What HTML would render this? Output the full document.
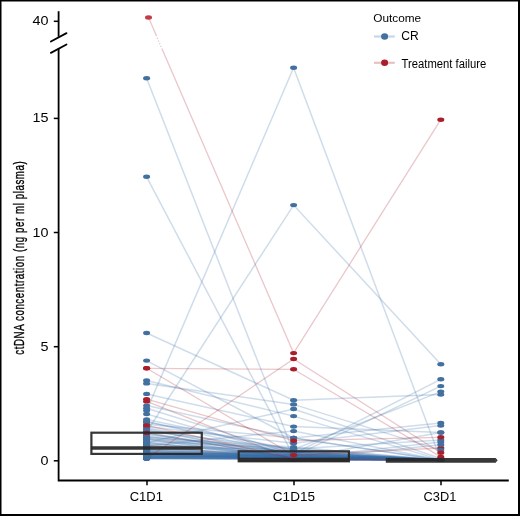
<!DOCTYPE html>
<html><head><meta charset="utf-8"><style>
html,body{margin:0;padding:0;background:#fff;}
svg{display:block;will-change:transform;}
text{font-family:"Liberation Sans",sans-serif;fill:#000;}
</style></head><body>
<svg width="520" height="516" viewBox="0 0 520 516">
<rect x="0" y="0" width="520" height="516" fill="#fff"/>
<g fill="none" stroke="#aa1e2c" stroke-opacity="0.25" stroke-width="1.3"><polyline points="146.6,401.4 293.6,459.7 440.8,459.9"/><polyline points="146.6,432.9 293.6,458.5 440.8,459.9"/><polyline points="146.6,444.8 293.6,459.7 440.8,459.9"/></g><g fill="none" stroke="#386ea6" stroke-opacity="0.24" stroke-width="1.5"><polyline points="146.6,78.2 293.6,452.6 440.8,459.7"/><polyline points="146.6,176.8 293.6,456.2 440.8,459.7"/><polyline points="146.6,333.0 293.6,400.3 440.8,394.6"/><polyline points="146.6,360.6 293.6,438.0 440.8,459.9"/><polyline points="146.6,380.4 293.6,416.1 440.8,459.9"/><polyline points="146.6,383.4 293.6,404.4 440.8,450.1"/><polyline points="146.6,393.9 293.6,426.6 440.8,432.5"/><polyline points="146.6,410.6 293.6,67.7 440.8,459.9"/><polyline points="146.6,432.0 293.6,205.1 440.8,364.2"/><polyline points="146.6,442.8 293.6,409.0 440.8,458.5"/><polyline points="146.6,405.6 293.6,438.0 440.8,459.9"/><polyline points="146.6,408.3 293.6,454.0 440.8,379.3"/><polyline points="146.6,414.0 293.6,456.2 440.8,386.1"/><polyline points="146.6,422.0 293.6,449.4 440.8,391.6"/><polyline points="146.6,424.3 293.6,438.0 440.8,422.9"/><polyline points="146.6,426.6 293.6,443.2 440.8,425.6"/><polyline points="146.6,428.8 293.6,458.5 440.8,432.5"/><polyline points="146.6,431.1 293.6,448.9 440.8,440.0"/><polyline points="146.6,433.4 293.6,458.5 440.8,442.1"/><polyline points="146.6,435.7 293.6,459.7 440.8,444.8"/><polyline points="146.6,437.5 293.6,447.1 440.8,459.9"/><polyline points="146.6,419.5 293.6,450.5 440.8,459.9"/><polyline points="146.6,438.7 293.6,451.7 440.8,459.9"/><polyline points="146.6,421.5 293.6,455.1 440.8,459.9"/><polyline points="146.6,439.8 293.6,457.4 440.8,459.9"/><polyline points="146.6,427.7 293.6,454.0 440.8,459.9"/><polyline points="146.6,430.0 293.6,456.2 440.8,459.9"/><polyline points="146.6,432.3 293.6,458.5 440.8,458.5"/><polyline points="146.6,434.5 293.6,452.8 440.8,459.9"/><polyline points="146.6,436.8 293.6,450.5 440.8,459.9"/><polyline points="146.6,438.0 293.6,457.4 440.8,459.9"/><polyline points="146.6,439.1 293.6,459.7 440.8,459.9"/><polyline points="146.6,445.7 293.6,431.1 440.8,459.9"/><polyline points="146.6,441.4 293.6,448.2 440.8,459.9"/><polyline points="146.6,442.5 293.6,458.5 440.8,459.9"/><polyline points="146.6,443.7 293.6,451.7 440.8,459.9"/><polyline points="146.6,444.8 293.6,454.0 440.8,459.9"/><polyline points="146.6,446.0 293.6,458.5 440.8,459.9"/><polyline points="146.6,447.1 293.6,459.7 440.8,459.9"/><polyline points="146.6,448.2 293.6,455.1 440.8,459.9"/><polyline points="146.6,449.4 293.6,458.5 440.8,459.9"/><polyline points="146.6,450.5 293.6,452.8 440.8,459.9"/><polyline points="146.6,451.7 293.6,458.5 440.8,459.9"/><polyline points="146.6,452.8 293.6,459.7 440.8,459.9"/><polyline points="146.6,454.0 293.6,456.2 440.8,459.9"/><polyline points="146.6,455.1 293.6,458.5 440.8,459.9"/><polyline points="146.6,456.2 293.6,457.4 440.8,459.9"/><polyline points="146.6,457.4 293.6,458.5 440.8,459.9"/><polyline points="146.6,458.5 293.6,458.5 440.8,459.9"/><polyline points="146.6,458.1 293.6,459.7 440.8,459.9"/><polyline points="146.6,458.5 293.6,459.7 440.8,459.9"/><polyline points="146.6,458.5 293.6,458.5 440.8,459.9"/><polyline points="146.6,454.0 293.6,458.5 440.8,459.9"/><polyline points="146.6,449.4 293.6,456.2 440.8,459.9"/><polyline points="146.6,442.5 293.6,457.4 440.8,459.9"/><polyline points="146.6,456.2 293.6,455.1 440.8,459.9"/><polyline points="146.6,458.5 293.6,457.4 440.8,459.9"/><polyline points="146.6,447.1 293.6,449.4 440.8,459.9"/><polyline points="146.6,451.7 293.6,454.0 440.8,459.9"/><polyline points="146.6,455.1 293.6,451.7 440.8,459.9"/><polyline points="146.6,457.4 293.6,456.2 440.8,459.9"/><polyline points="146.6,452.8 293.6,456.2 440.8,459.9"/><polyline points="146.6,450.5 293.6,457.4 440.8,459.9"/><polyline points="146.6,456.2 293.6,459.7 440.8,459.9"/><polyline points="146.6,454.0 293.6,454.0 440.8,459.9"/><polyline points="146.6,458.1 293.6,458.1 440.8,459.9"/><polyline points="146.6,456.7 293.6,459.0 440.8,459.9"/><polyline points="146.6,455.8 293.6,456.7 440.8,459.9"/><polyline points="146.6,454.4 293.6,458.1 440.8,459.9"/><polyline points="146.6,453.3 293.6,455.8 440.8,459.9"/><polyline points="146.6,457.6 293.6,455.1 440.8,459.9"/><polyline points="146.6,452.1 293.6,457.4 440.8,459.9"/><polyline points="146.6,451.2 293.6,455.1 440.8,459.9"/><polyline points="146.6,457.1 293.6,454.0 440.8,459.9"/><polyline points="146.6,454.9 293.6,452.8 440.8,459.9"/><polyline points="146.6,458.3 293.6,458.5 440.8,459.9"/><polyline points="146.6,455.3 293.6,458.5 440.8,459.9"/><polyline points="146.6,457.8 293.6,457.6 440.8,459.9"/><polyline points="146.6,456.5 293.6,458.1 440.8,459.9"/><polyline points="146.6,455.5 293.6,456.2 440.8,459.9"/><polyline points="146.6,456.9 293.6,456.7 440.8,459.9"/><polyline points="146.6,454.6 293.6,457.4 440.8,459.9"/><polyline points="146.6,453.5 293.6,458.1 440.8,459.9"/><polyline points="146.6,456.0 293.6,454.4 440.8,459.9"/><polyline points="146.6,452.6 293.6,455.1 440.8,459.9"/></g><g fill="none" stroke="#aa1e2c" stroke-opacity="0.25" stroke-width="1.3"><polyline points="146.6,458.5 293.6,359.0 440.8,452.8"/><polyline points="146.6,368.3 293.6,369.3 440.8,456.9"/><polyline points="146.6,368.3 293.6,455.3 440.8,448.0"/><polyline points="146.6,399.2 293.6,440.7 440.8,437.3"/><polyline points="146.6,425.4 293.6,458.5 440.8,459.9"/></g><g fill="none" stroke="#aa1e2c" stroke-opacity="0.25" stroke-width="1.3"><polyline points="148.5,17.5 156.1,35.1"/><polyline points="156.1,35.1 162.3,49.5" stroke-dasharray="1.3 1.6"/><polyline points="162.3,49.5 293.6,353.1 440.8,119.7"/></g><g fill="#aa1e2c"><ellipse cx="146.6" cy="458.5" rx="3.5" ry="2.2"/><ellipse cx="440.8" cy="448.0" rx="3.5" ry="2.2"/><ellipse cx="293.6" cy="459.7" rx="3.5" ry="2.2"/><ellipse cx="440.8" cy="459.9" rx="3.5" ry="2.2"/><ellipse cx="293.6" cy="458.5" rx="3.5" ry="2.2"/><ellipse cx="440.8" cy="459.9" rx="3.5" ry="2.2"/><ellipse cx="293.6" cy="458.5" rx="3.5" ry="2.2"/><ellipse cx="440.8" cy="459.9" rx="3.5" ry="2.2"/><ellipse cx="146.6" cy="444.8" rx="3.5" ry="2.2"/><ellipse cx="293.6" cy="459.7" rx="3.5" ry="2.2"/><ellipse cx="440.8" cy="459.9" rx="3.5" ry="2.2"/></g><g fill="#42709f"><ellipse cx="146.6" cy="78.2" rx="3.5" ry="2.2"/><ellipse cx="293.6" cy="452.6" rx="3.5" ry="2.2"/><ellipse cx="440.8" cy="459.7" rx="3.5" ry="2.2"/><ellipse cx="146.6" cy="176.8" rx="3.5" ry="2.2"/><ellipse cx="293.6" cy="456.2" rx="3.5" ry="2.2"/><ellipse cx="440.8" cy="459.7" rx="3.5" ry="2.2"/><ellipse cx="146.6" cy="333.0" rx="3.5" ry="2.2"/><ellipse cx="293.6" cy="400.3" rx="3.5" ry="2.2"/><ellipse cx="440.8" cy="394.6" rx="3.5" ry="2.2"/><ellipse cx="146.6" cy="360.6" rx="3.5" ry="2.2"/><ellipse cx="293.6" cy="438.0" rx="3.5" ry="2.2"/><ellipse cx="440.8" cy="459.9" rx="3.5" ry="2.2"/><ellipse cx="146.6" cy="380.4" rx="3.5" ry="2.2"/><ellipse cx="293.6" cy="416.1" rx="3.5" ry="2.2"/><ellipse cx="440.8" cy="459.9" rx="3.5" ry="2.2"/><ellipse cx="146.6" cy="383.4" rx="3.5" ry="2.2"/><ellipse cx="293.6" cy="404.4" rx="3.5" ry="2.2"/><ellipse cx="440.8" cy="450.1" rx="3.5" ry="2.2"/><ellipse cx="146.6" cy="393.9" rx="3.5" ry="2.2"/><ellipse cx="293.6" cy="426.6" rx="3.5" ry="2.2"/><ellipse cx="440.8" cy="432.5" rx="3.5" ry="2.2"/><ellipse cx="146.6" cy="410.6" rx="3.5" ry="2.2"/><ellipse cx="293.6" cy="67.7" rx="3.5" ry="2.2"/><ellipse cx="440.8" cy="459.9" rx="3.5" ry="2.2"/><ellipse cx="146.6" cy="432.0" rx="3.5" ry="2.2"/><ellipse cx="293.6" cy="205.1" rx="3.5" ry="2.2"/><ellipse cx="440.8" cy="364.2" rx="3.5" ry="2.2"/><ellipse cx="146.6" cy="442.8" rx="3.5" ry="2.2"/><ellipse cx="293.6" cy="409.0" rx="3.5" ry="2.2"/><ellipse cx="440.8" cy="458.5" rx="3.5" ry="2.2"/><ellipse cx="146.6" cy="405.6" rx="3.5" ry="2.2"/><ellipse cx="293.6" cy="438.0" rx="3.5" ry="2.2"/><ellipse cx="440.8" cy="459.9" rx="3.5" ry="2.2"/><ellipse cx="146.6" cy="408.3" rx="3.5" ry="2.2"/><ellipse cx="293.6" cy="454.0" rx="3.5" ry="2.2"/><ellipse cx="440.8" cy="379.3" rx="3.5" ry="2.2"/><ellipse cx="146.6" cy="414.0" rx="3.5" ry="2.2"/><ellipse cx="293.6" cy="456.2" rx="3.5" ry="2.2"/><ellipse cx="440.8" cy="386.1" rx="3.5" ry="2.2"/><ellipse cx="146.6" cy="422.0" rx="3.5" ry="2.2"/><ellipse cx="293.6" cy="449.4" rx="3.5" ry="2.2"/><ellipse cx="440.8" cy="391.6" rx="3.5" ry="2.2"/><ellipse cx="146.6" cy="424.3" rx="3.5" ry="2.2"/><ellipse cx="293.6" cy="438.0" rx="3.5" ry="2.2"/><ellipse cx="440.8" cy="422.9" rx="3.5" ry="2.2"/><ellipse cx="146.6" cy="426.6" rx="3.5" ry="2.2"/><ellipse cx="293.6" cy="443.2" rx="3.5" ry="2.2"/><ellipse cx="440.8" cy="425.6" rx="3.5" ry="2.2"/><ellipse cx="146.6" cy="428.8" rx="3.5" ry="2.2"/><ellipse cx="293.6" cy="458.5" rx="3.5" ry="2.2"/><ellipse cx="440.8" cy="432.5" rx="3.5" ry="2.2"/><ellipse cx="146.6" cy="431.1" rx="3.5" ry="2.2"/><ellipse cx="293.6" cy="448.9" rx="3.5" ry="2.2"/><ellipse cx="440.8" cy="440.0" rx="3.5" ry="2.2"/><ellipse cx="146.6" cy="433.4" rx="3.5" ry="2.2"/><ellipse cx="293.6" cy="458.5" rx="3.5" ry="2.2"/><ellipse cx="440.8" cy="442.1" rx="3.5" ry="2.2"/><ellipse cx="146.6" cy="435.7" rx="3.5" ry="2.2"/><ellipse cx="293.6" cy="459.7" rx="3.5" ry="2.2"/><ellipse cx="440.8" cy="444.8" rx="3.5" ry="2.2"/><ellipse cx="146.6" cy="437.5" rx="3.5" ry="2.2"/><ellipse cx="293.6" cy="447.1" rx="3.5" ry="2.2"/><ellipse cx="440.8" cy="459.9" rx="3.5" ry="2.2"/><ellipse cx="146.6" cy="419.5" rx="3.5" ry="2.2"/><ellipse cx="293.6" cy="450.5" rx="3.5" ry="2.2"/><ellipse cx="440.8" cy="459.9" rx="3.5" ry="2.2"/><ellipse cx="146.6" cy="438.7" rx="3.5" ry="2.2"/><ellipse cx="293.6" cy="451.7" rx="3.5" ry="2.2"/><ellipse cx="440.8" cy="459.9" rx="3.5" ry="2.2"/><ellipse cx="146.6" cy="421.5" rx="3.5" ry="2.2"/><ellipse cx="293.6" cy="455.1" rx="3.5" ry="2.2"/><ellipse cx="440.8" cy="459.9" rx="3.5" ry="2.2"/><ellipse cx="146.6" cy="439.8" rx="3.5" ry="2.2"/><ellipse cx="293.6" cy="457.4" rx="3.5" ry="2.2"/><ellipse cx="440.8" cy="459.9" rx="3.5" ry="2.2"/><ellipse cx="146.6" cy="427.7" rx="3.5" ry="2.2"/><ellipse cx="293.6" cy="454.0" rx="3.5" ry="2.2"/><ellipse cx="440.8" cy="459.9" rx="3.5" ry="2.2"/><ellipse cx="146.6" cy="430.0" rx="3.5" ry="2.2"/><ellipse cx="293.6" cy="456.2" rx="3.5" ry="2.2"/><ellipse cx="440.8" cy="459.9" rx="3.5" ry="2.2"/><ellipse cx="146.6" cy="432.3" rx="3.5" ry="2.2"/><ellipse cx="293.6" cy="458.5" rx="3.5" ry="2.2"/><ellipse cx="440.8" cy="458.5" rx="3.5" ry="2.2"/><ellipse cx="146.6" cy="434.5" rx="3.5" ry="2.2"/><ellipse cx="293.6" cy="452.8" rx="3.5" ry="2.2"/><ellipse cx="440.8" cy="459.9" rx="3.5" ry="2.2"/><ellipse cx="146.6" cy="436.8" rx="3.5" ry="2.2"/><ellipse cx="293.6" cy="450.5" rx="3.5" ry="2.2"/><ellipse cx="440.8" cy="459.9" rx="3.5" ry="2.2"/><ellipse cx="146.6" cy="438.0" rx="3.5" ry="2.2"/><ellipse cx="293.6" cy="457.4" rx="3.5" ry="2.2"/><ellipse cx="440.8" cy="459.9" rx="3.5" ry="2.2"/><ellipse cx="146.6" cy="439.1" rx="3.5" ry="2.2"/><ellipse cx="293.6" cy="459.7" rx="3.5" ry="2.2"/><ellipse cx="440.8" cy="459.9" rx="3.5" ry="2.2"/><ellipse cx="146.6" cy="445.7" rx="3.5" ry="2.2"/><ellipse cx="293.6" cy="431.1" rx="3.5" ry="2.2"/><ellipse cx="440.8" cy="459.9" rx="3.5" ry="2.2"/><ellipse cx="146.6" cy="441.4" rx="3.5" ry="2.2"/><ellipse cx="293.6" cy="448.2" rx="3.5" ry="2.2"/><ellipse cx="440.8" cy="459.9" rx="3.5" ry="2.2"/><ellipse cx="146.6" cy="442.5" rx="3.5" ry="2.2"/><ellipse cx="293.6" cy="458.5" rx="3.5" ry="2.2"/><ellipse cx="440.8" cy="459.9" rx="3.5" ry="2.2"/><ellipse cx="146.6" cy="443.7" rx="3.5" ry="2.2"/><ellipse cx="293.6" cy="451.7" rx="3.5" ry="2.2"/><ellipse cx="440.8" cy="459.9" rx="3.5" ry="2.2"/><ellipse cx="146.6" cy="444.8" rx="3.5" ry="2.2"/><ellipse cx="293.6" cy="454.0" rx="3.5" ry="2.2"/><ellipse cx="440.8" cy="459.9" rx="3.5" ry="2.2"/><ellipse cx="146.6" cy="446.0" rx="3.5" ry="2.2"/><ellipse cx="293.6" cy="458.5" rx="3.5" ry="2.2"/><ellipse cx="440.8" cy="459.9" rx="3.5" ry="2.2"/><ellipse cx="146.6" cy="447.1" rx="3.5" ry="2.2"/><ellipse cx="293.6" cy="459.7" rx="3.5" ry="2.2"/><ellipse cx="440.8" cy="459.9" rx="3.5" ry="2.2"/><ellipse cx="146.6" cy="448.2" rx="3.5" ry="2.2"/><ellipse cx="293.6" cy="455.1" rx="3.5" ry="2.2"/><ellipse cx="440.8" cy="459.9" rx="3.5" ry="2.2"/><ellipse cx="146.6" cy="449.4" rx="3.5" ry="2.2"/><ellipse cx="293.6" cy="458.5" rx="3.5" ry="2.2"/><ellipse cx="440.8" cy="459.9" rx="3.5" ry="2.2"/><ellipse cx="146.6" cy="450.5" rx="3.5" ry="2.2"/><ellipse cx="293.6" cy="452.8" rx="3.5" ry="2.2"/><ellipse cx="440.8" cy="459.9" rx="3.5" ry="2.2"/><ellipse cx="146.6" cy="451.7" rx="3.5" ry="2.2"/><ellipse cx="293.6" cy="458.5" rx="3.5" ry="2.2"/><ellipse cx="440.8" cy="459.9" rx="3.5" ry="2.2"/><ellipse cx="146.6" cy="452.8" rx="3.5" ry="2.2"/><ellipse cx="293.6" cy="459.7" rx="3.5" ry="2.2"/><ellipse cx="440.8" cy="459.9" rx="3.5" ry="2.2"/><ellipse cx="146.6" cy="454.0" rx="3.5" ry="2.2"/><ellipse cx="293.6" cy="456.2" rx="3.5" ry="2.2"/><ellipse cx="440.8" cy="459.9" rx="3.5" ry="2.2"/><ellipse cx="146.6" cy="455.1" rx="3.5" ry="2.2"/><ellipse cx="293.6" cy="458.5" rx="3.5" ry="2.2"/><ellipse cx="440.8" cy="459.9" rx="3.5" ry="2.2"/><ellipse cx="146.6" cy="456.2" rx="3.5" ry="2.2"/><ellipse cx="293.6" cy="457.4" rx="3.5" ry="2.2"/><ellipse cx="440.8" cy="459.9" rx="3.5" ry="2.2"/><ellipse cx="146.6" cy="457.4" rx="3.5" ry="2.2"/><ellipse cx="293.6" cy="458.5" rx="3.5" ry="2.2"/><ellipse cx="440.8" cy="459.9" rx="3.5" ry="2.2"/><ellipse cx="146.6" cy="458.5" rx="3.5" ry="2.2"/><ellipse cx="293.6" cy="458.5" rx="3.5" ry="2.2"/><ellipse cx="440.8" cy="459.9" rx="3.5" ry="2.2"/><ellipse cx="146.6" cy="458.1" rx="3.5" ry="2.2"/><ellipse cx="293.6" cy="459.7" rx="3.5" ry="2.2"/><ellipse cx="440.8" cy="459.9" rx="3.5" ry="2.2"/><ellipse cx="146.6" cy="458.5" rx="3.5" ry="2.2"/><ellipse cx="293.6" cy="459.7" rx="3.5" ry="2.2"/><ellipse cx="440.8" cy="459.9" rx="3.5" ry="2.2"/><ellipse cx="146.6" cy="458.5" rx="3.5" ry="2.2"/><ellipse cx="293.6" cy="458.5" rx="3.5" ry="2.2"/><ellipse cx="440.8" cy="459.9" rx="3.5" ry="2.2"/><ellipse cx="146.6" cy="454.0" rx="3.5" ry="2.2"/><ellipse cx="293.6" cy="458.5" rx="3.5" ry="2.2"/><ellipse cx="440.8" cy="459.9" rx="3.5" ry="2.2"/><ellipse cx="146.6" cy="449.4" rx="3.5" ry="2.2"/><ellipse cx="293.6" cy="456.2" rx="3.5" ry="2.2"/><ellipse cx="440.8" cy="459.9" rx="3.5" ry="2.2"/><ellipse cx="146.6" cy="442.5" rx="3.5" ry="2.2"/><ellipse cx="293.6" cy="457.4" rx="3.5" ry="2.2"/><ellipse cx="440.8" cy="459.9" rx="3.5" ry="2.2"/><ellipse cx="146.6" cy="456.2" rx="3.5" ry="2.2"/><ellipse cx="293.6" cy="455.1" rx="3.5" ry="2.2"/><ellipse cx="440.8" cy="459.9" rx="3.5" ry="2.2"/><ellipse cx="146.6" cy="458.5" rx="3.5" ry="2.2"/><ellipse cx="293.6" cy="457.4" rx="3.5" ry="2.2"/><ellipse cx="440.8" cy="459.9" rx="3.5" ry="2.2"/><ellipse cx="146.6" cy="447.1" rx="3.5" ry="2.2"/><ellipse cx="293.6" cy="449.4" rx="3.5" ry="2.2"/><ellipse cx="440.8" cy="459.9" rx="3.5" ry="2.2"/><ellipse cx="146.6" cy="451.7" rx="3.5" ry="2.2"/><ellipse cx="293.6" cy="454.0" rx="3.5" ry="2.2"/><ellipse cx="440.8" cy="459.9" rx="3.5" ry="2.2"/><ellipse cx="146.6" cy="455.1" rx="3.5" ry="2.2"/><ellipse cx="293.6" cy="451.7" rx="3.5" ry="2.2"/><ellipse cx="440.8" cy="459.9" rx="3.5" ry="2.2"/><ellipse cx="146.6" cy="457.4" rx="3.5" ry="2.2"/><ellipse cx="293.6" cy="456.2" rx="3.5" ry="2.2"/><ellipse cx="440.8" cy="459.9" rx="3.5" ry="2.2"/><ellipse cx="146.6" cy="452.8" rx="3.5" ry="2.2"/><ellipse cx="293.6" cy="456.2" rx="3.5" ry="2.2"/><ellipse cx="440.8" cy="459.9" rx="3.5" ry="2.2"/><ellipse cx="146.6" cy="450.5" rx="3.5" ry="2.2"/><ellipse cx="293.6" cy="457.4" rx="3.5" ry="2.2"/><ellipse cx="440.8" cy="459.9" rx="3.5" ry="2.2"/><ellipse cx="146.6" cy="456.2" rx="3.5" ry="2.2"/><ellipse cx="293.6" cy="459.7" rx="3.5" ry="2.2"/><ellipse cx="440.8" cy="459.9" rx="3.5" ry="2.2"/><ellipse cx="146.6" cy="454.0" rx="3.5" ry="2.2"/><ellipse cx="293.6" cy="454.0" rx="3.5" ry="2.2"/><ellipse cx="440.8" cy="459.9" rx="3.5" ry="2.2"/><ellipse cx="146.6" cy="458.1" rx="3.5" ry="2.2"/><ellipse cx="293.6" cy="458.1" rx="3.5" ry="2.2"/><ellipse cx="440.8" cy="459.9" rx="3.5" ry="2.2"/><ellipse cx="146.6" cy="456.7" rx="3.5" ry="2.2"/><ellipse cx="293.6" cy="459.0" rx="3.5" ry="2.2"/><ellipse cx="440.8" cy="459.9" rx="3.5" ry="2.2"/><ellipse cx="146.6" cy="455.8" rx="3.5" ry="2.2"/><ellipse cx="293.6" cy="456.7" rx="3.5" ry="2.2"/><ellipse cx="440.8" cy="459.9" rx="3.5" ry="2.2"/><ellipse cx="146.6" cy="454.4" rx="3.5" ry="2.2"/><ellipse cx="293.6" cy="458.1" rx="3.5" ry="2.2"/><ellipse cx="440.8" cy="459.9" rx="3.5" ry="2.2"/><ellipse cx="146.6" cy="453.3" rx="3.5" ry="2.2"/><ellipse cx="293.6" cy="455.8" rx="3.5" ry="2.2"/><ellipse cx="440.8" cy="459.9" rx="3.5" ry="2.2"/><ellipse cx="146.6" cy="457.6" rx="3.5" ry="2.2"/><ellipse cx="293.6" cy="455.1" rx="3.5" ry="2.2"/><ellipse cx="440.8" cy="459.9" rx="3.5" ry="2.2"/><ellipse cx="146.6" cy="452.1" rx="3.5" ry="2.2"/><ellipse cx="293.6" cy="457.4" rx="3.5" ry="2.2"/><ellipse cx="440.8" cy="459.9" rx="3.5" ry="2.2"/><ellipse cx="146.6" cy="451.2" rx="3.5" ry="2.2"/><ellipse cx="293.6" cy="455.1" rx="3.5" ry="2.2"/><ellipse cx="440.8" cy="459.9" rx="3.5" ry="2.2"/><ellipse cx="146.6" cy="457.1" rx="3.5" ry="2.2"/><ellipse cx="293.6" cy="454.0" rx="3.5" ry="2.2"/><ellipse cx="440.8" cy="459.9" rx="3.5" ry="2.2"/><ellipse cx="146.6" cy="454.9" rx="3.5" ry="2.2"/><ellipse cx="293.6" cy="452.8" rx="3.5" ry="2.2"/><ellipse cx="440.8" cy="459.9" rx="3.5" ry="2.2"/><ellipse cx="146.6" cy="458.3" rx="3.5" ry="2.2"/><ellipse cx="293.6" cy="458.5" rx="3.5" ry="2.2"/><ellipse cx="440.8" cy="459.9" rx="3.5" ry="2.2"/><ellipse cx="146.6" cy="455.3" rx="3.5" ry="2.2"/><ellipse cx="293.6" cy="458.5" rx="3.5" ry="2.2"/><ellipse cx="440.8" cy="459.9" rx="3.5" ry="2.2"/><ellipse cx="146.6" cy="457.8" rx="3.5" ry="2.2"/><ellipse cx="293.6" cy="457.6" rx="3.5" ry="2.2"/><ellipse cx="440.8" cy="459.9" rx="3.5" ry="2.2"/><ellipse cx="146.6" cy="456.5" rx="3.5" ry="2.2"/><ellipse cx="293.6" cy="458.1" rx="3.5" ry="2.2"/><ellipse cx="440.8" cy="459.9" rx="3.5" ry="2.2"/><ellipse cx="146.6" cy="455.5" rx="3.5" ry="2.2"/><ellipse cx="293.6" cy="456.2" rx="3.5" ry="2.2"/><ellipse cx="440.8" cy="459.9" rx="3.5" ry="2.2"/><ellipse cx="146.6" cy="456.9" rx="3.5" ry="2.2"/><ellipse cx="293.6" cy="456.7" rx="3.5" ry="2.2"/><ellipse cx="440.8" cy="459.9" rx="3.5" ry="2.2"/><ellipse cx="146.6" cy="454.6" rx="3.5" ry="2.2"/><ellipse cx="293.6" cy="457.4" rx="3.5" ry="2.2"/><ellipse cx="440.8" cy="459.9" rx="3.5" ry="2.2"/><ellipse cx="146.6" cy="453.5" rx="3.5" ry="2.2"/><ellipse cx="293.6" cy="458.1" rx="3.5" ry="2.2"/><ellipse cx="440.8" cy="459.9" rx="3.5" ry="2.2"/><ellipse cx="146.6" cy="456.0" rx="3.5" ry="2.2"/><ellipse cx="293.6" cy="454.4" rx="3.5" ry="2.2"/><ellipse cx="440.8" cy="459.9" rx="3.5" ry="2.2"/><ellipse cx="146.6" cy="452.6" rx="3.5" ry="2.2"/><ellipse cx="293.6" cy="455.1" rx="3.5" ry="2.2"/><ellipse cx="440.8" cy="459.9" rx="3.5" ry="2.2"/></g><g fill="#aa1e2c"><ellipse cx="148.5" cy="17.5" rx="3.5" ry="2.2" fill="#c43a48"/><ellipse cx="293.6" cy="353.1" rx="3.5" ry="2.2"/><ellipse cx="440.8" cy="119.7" rx="3.5" ry="2.2"/><ellipse cx="293.6" cy="359.0" rx="3.5" ry="2.2"/><ellipse cx="440.8" cy="452.8" rx="3.5" ry="2.2"/><ellipse cx="146.6" cy="368.3" rx="3.5" ry="2.2"/><ellipse cx="293.6" cy="369.3" rx="3.5" ry="2.2"/><ellipse cx="440.8" cy="456.9" rx="3.5" ry="2.2"/><ellipse cx="146.6" cy="368.3" rx="3.5" ry="2.2"/><ellipse cx="293.6" cy="455.3" rx="3.5" ry="2.2"/><ellipse cx="146.6" cy="399.2" rx="3.5" ry="2.2"/><ellipse cx="293.6" cy="440.7" rx="3.5" ry="2.2"/><ellipse cx="440.8" cy="437.3" rx="3.5" ry="2.2"/><ellipse cx="146.6" cy="401.4" rx="3.5" ry="2.2"/><ellipse cx="146.6" cy="425.4" rx="3.5" ry="2.2"/><ellipse cx="146.6" cy="432.9" rx="3.5" ry="2.2"/></g>
<g fill="none" stroke="#262626" stroke-opacity="0.92">
 <rect x="91.4" y="432.7" width="110.4" height="21.2" stroke-width="2.2"/>
 <line x1="91.4" x2="201.8" y1="448" y2="448" stroke-width="3.5"/>
 <rect x="238.7" y="451.3" width="110.2" height="10" stroke-width="2.2"/>
 <line x1="238.7" x2="348.7" y1="459.8" y2="459.8" stroke-width="4"/>
 <line x1="385.8" x2="495.9" y1="460.3" y2="460.3" stroke-width="4.8"/>
</g>
<polygon points="495.8,458.3 497.7,460.3 495.8,462.4" fill="#262626" fill-opacity="0.92"/>
<g stroke="#000" stroke-width="1.8" fill="none">
 <line x1="58.6" y1="11.2" x2="58.6" y2="36.7"/>
 <polyline points="58.6,48.6 58.6,480.5 508.8,480.5"/>
 <line x1="53.8" y1="21.3" x2="58.6" y2="21.3" stroke-width="1.5"/>
 <line x1="53.8" y1="118.4" x2="58.6" y2="118.4" stroke-width="1.5"/>
 <line x1="53.8" y1="232.5" x2="58.6" y2="232.5" stroke-width="1.5"/>
 <line x1="53.8" y1="346.7" x2="58.6" y2="346.7" stroke-width="1.5"/>
 <line x1="53.8" y1="460.8" x2="58.6" y2="460.8" stroke-width="1.5"/>
 <line x1="147" y1="480.5" x2="147" y2="485.3" stroke-width="1.5"/>
 <line x1="294" y1="480.5" x2="294" y2="485.3" stroke-width="1.5"/>
 <line x1="441" y1="480.5" x2="441" y2="485.3" stroke-width="1.5"/>
 <line x1="50.9" y1="41.5" x2="66.5" y2="33.1" stroke-linecap="round"/>
 <line x1="50.9" y1="52.9" x2="66.5" y2="44.5" stroke-linecap="round"/>
</g>
<g font-size="12.5" text-anchor="end">
 <text transform="translate(48.6,25.2) scale(1.15,1)">40</text>
 <text transform="translate(48.6,122.4) scale(1.15,1)">15</text>
 <text transform="translate(48.6,236.5) scale(1.15,1)">10</text>
 <text transform="translate(48.6,350.7) scale(1.15,1)">5</text>
 <text transform="translate(48.6,464.9) scale(1.15,1)">0</text>
</g>
<g font-size="13.4" text-anchor="middle">
 <text transform="translate(146.3,501.2) scale(0.97,1)">C1D1</text>
 <text transform="translate(293.9,501.2) scale(1.01,1)">C1D15</text>
 <text transform="translate(439.9,501.2) scale(0.955,1)">C3D1</text>
</g>
<text transform="translate(24.1,257.7) rotate(-90) scale(0.68,1)" font-size="14.3" letter-spacing="0.84" stroke="#000" stroke-width="0.35" text-anchor="middle">ctDNA concentration (ng per ml plasma)</text>
<text x="373.3" y="22.3" font-size="11.8">Outcome</text>
<g stroke-width="2.2">
 <line x1="374" x2="394.8" y1="36.5" y2="36.5" stroke="#386ea6" stroke-opacity="0.28"/>
 <line x1="374" x2="394.8" y1="62.8" y2="62.8" stroke="#aa1e2c" stroke-opacity="0.28"/>
</g>
<ellipse cx="384.6" cy="36.5" rx="3.5" ry="3.2" fill="#42709f"/>
<ellipse cx="384.6" cy="62.8" rx="3.5" ry="3.2" fill="#aa1e2c"/>
<text x="401.3" y="40.4" font-size="12.1">CR</text>
<text x="401.6" y="67.8" font-size="12" textLength="84.6" lengthAdjust="spacingAndGlyphs">Treatment failure</text>
<g fill="#000"><rect x="0" y="0" width="520" height="1.5"/><rect x="0" y="0" width="1.5" height="516"/><rect x="518" y="0" width="2" height="516"/><rect x="0" y="514" width="520" height="2"/></g>
</svg>
</body></html>
